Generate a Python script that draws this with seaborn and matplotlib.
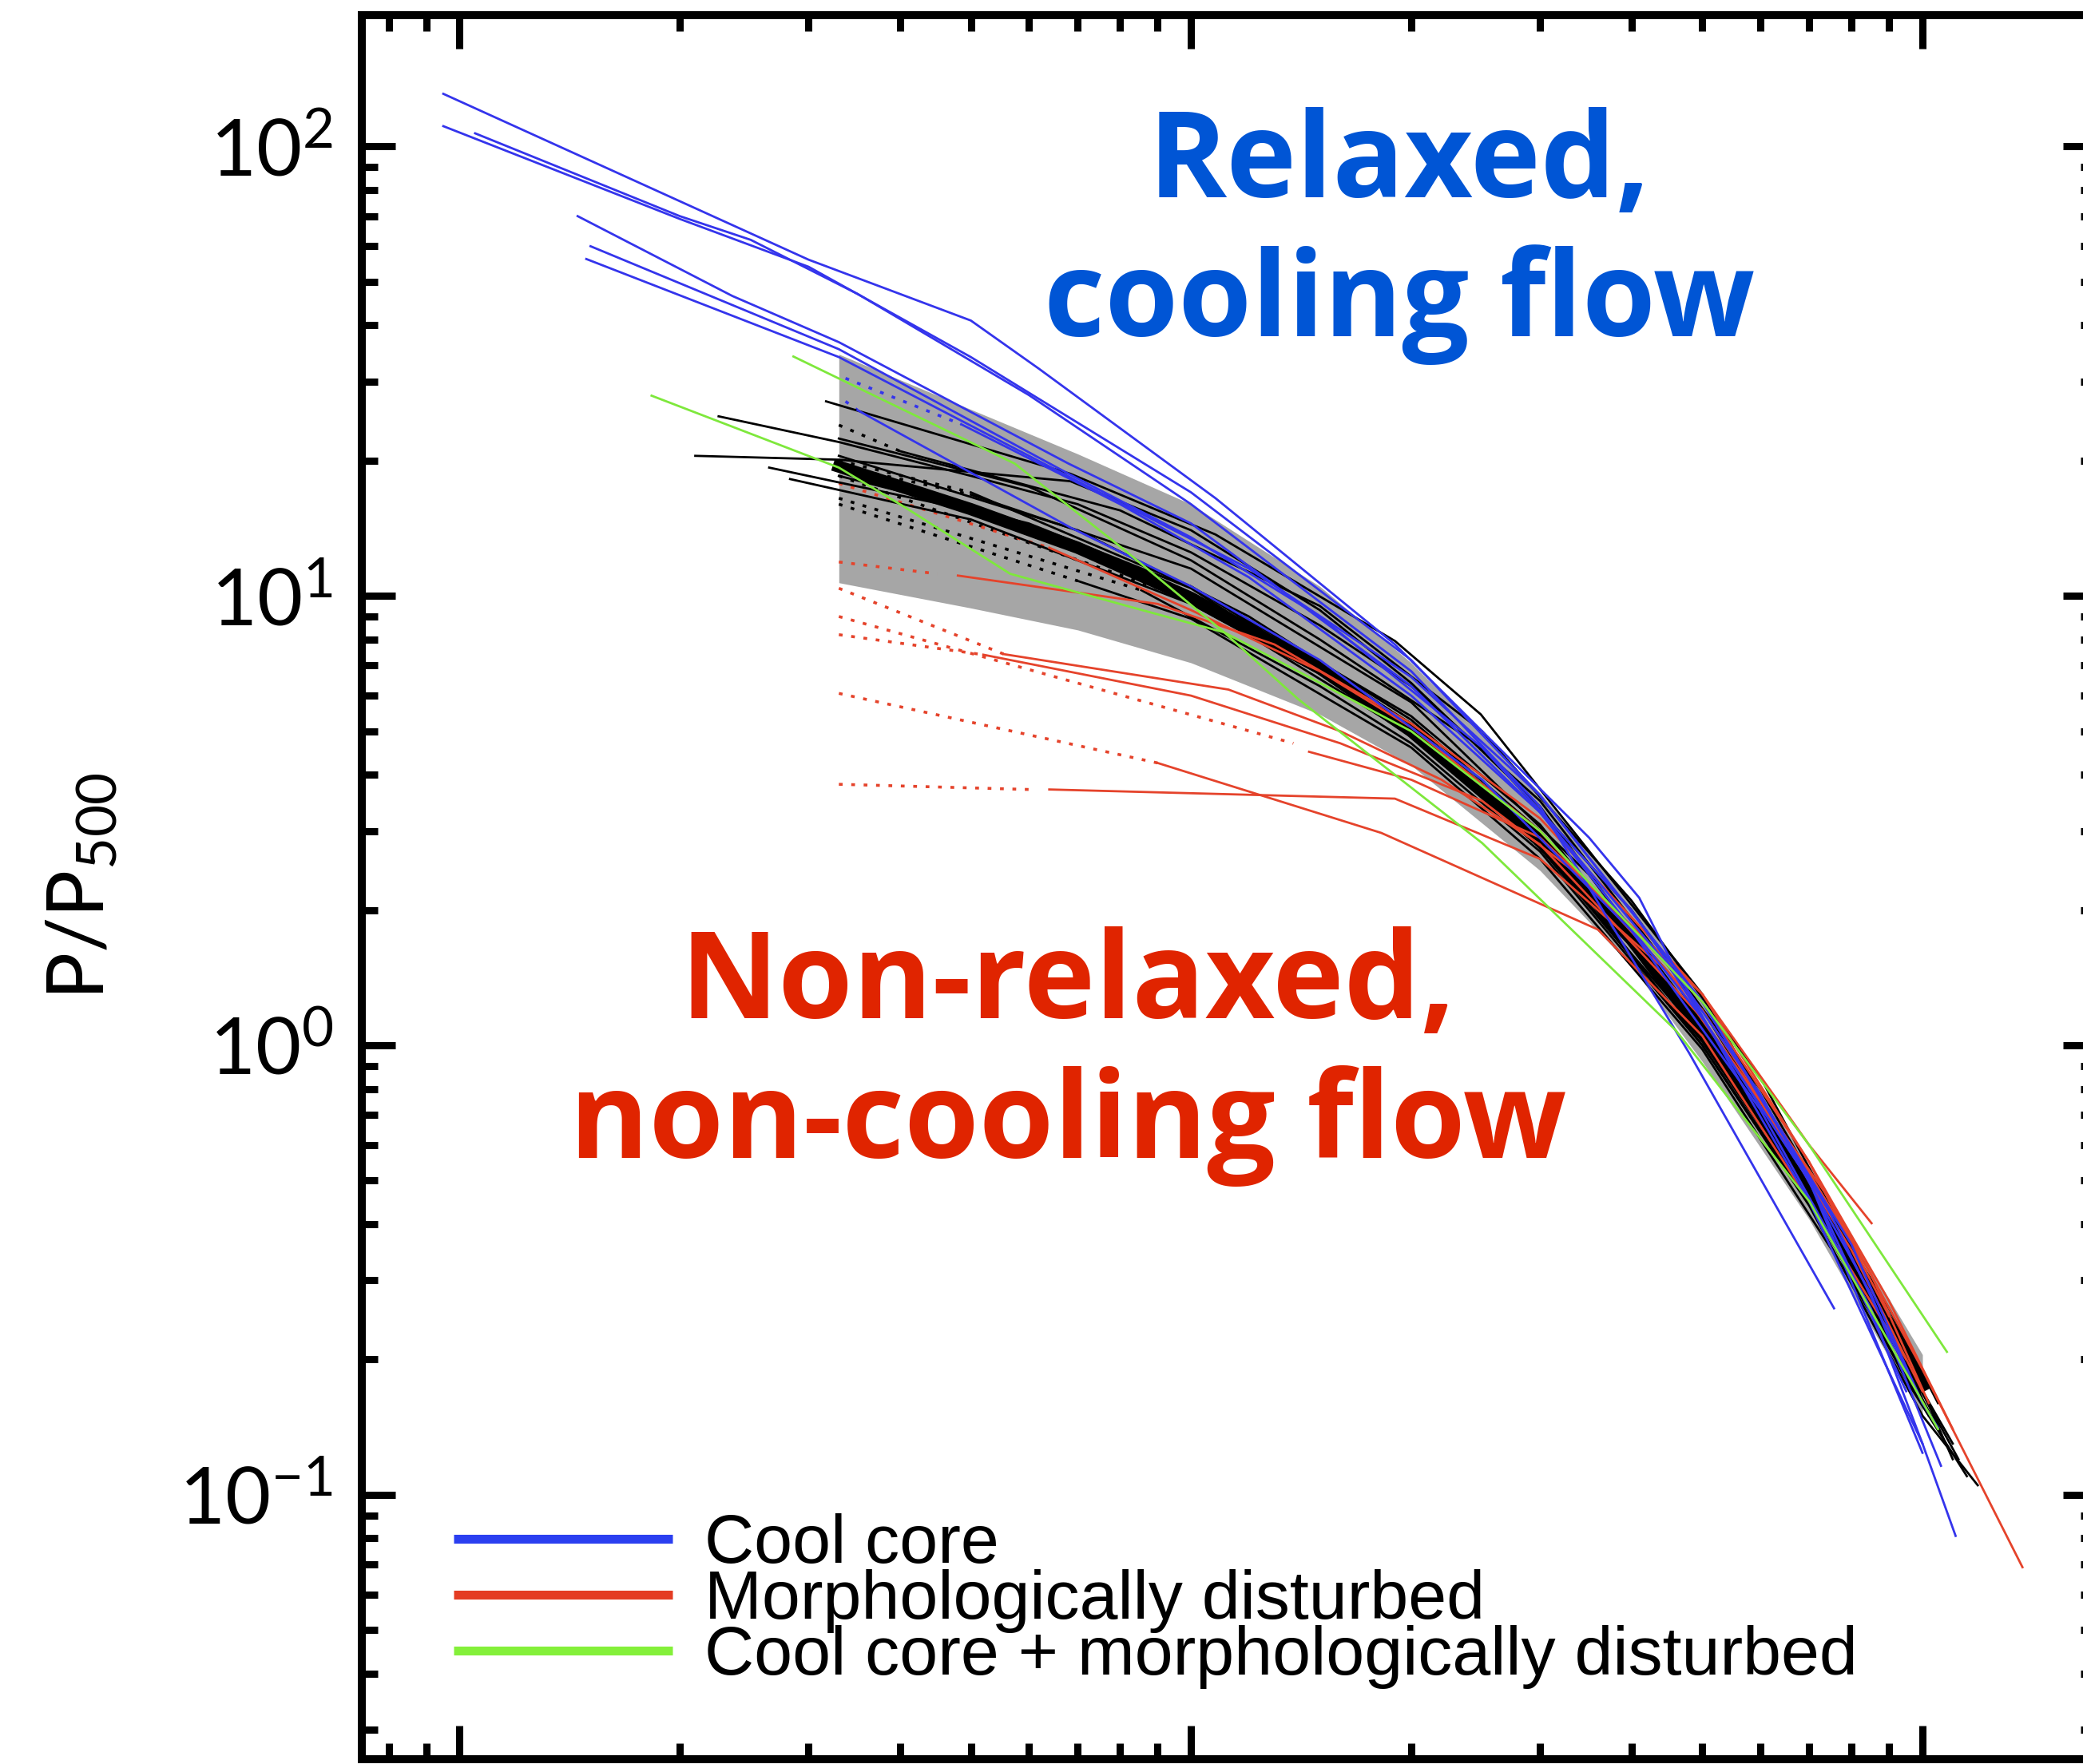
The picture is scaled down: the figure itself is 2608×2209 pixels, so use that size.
import numpy as np
import pandas as pd
import matplotlib
matplotlib.use("Agg")
import matplotlib.pyplot as plt
import seaborn as sns
from matplotlib.lines import Line2D
from matplotlib.ticker import LogLocator, NullFormatter, LogFormatterSciNotation

# ------------------------------------------------------------------ data
# mean scaled profile (thick black) and its dispersion (grey band)
mean_r = [0.033, 0.05, 0.07, 0.1, 0.15, 0.2, 0.3, 0.4, 0.5, 0.6, 0.7, 0.8, 0.9, 1.0]
mean_p = [19.4, 15.6, 12.8, 9.9, 6.9, 5.0, 2.85, 1.72, 1.07, 0.70, 0.47, 0.33, 0.24, 0.175]

band_r = [0.033, 0.05, 0.07, 0.1, 0.15, 0.2, 0.3, 0.4, 0.5, 0.7, 1.0]
band_lo = [10.7, 9.4, 8.4, 7.1, 5.45, 4.2, 2.45, 1.5, 0.92, 0.41, 0.15]
band_hi = [34.5, 26.0, 20.7, 16.0, 10.5, 7.1, 3.65, 2.1, 1.27, 0.54, 0.205]

# cool core clusters (blue)
cool_core_r = [
    [0.0095, 0.030, 0.050, 0.062, 0.108, 0.19, 0.35, 0.41, 0.46, 0.70, 1.0, 1.11],
    [0.0095, 0.020, 0.030, 0.050, 0.10, 0.20, 0.30, 0.50, 0.75, 1.0, 1.05],
    [0.0105, 0.020, 0.025, 0.035, 0.060, 0.10, 0.20, 0.30, 0.48, 0.757],
    [0.0145, 0.0236, 0.033, 0.068, 0.10, 0.20, 0.30, 0.50, 0.70, 1.0],
    [0.0151, 0.033, 0.068, 0.10, 0.15, 0.25, 0.40, 0.60, 0.85, 1.06],
    [0.0149, 0.033, 0.070, 0.12, 0.20, 0.30, 0.50, 0.80, 1.0],
    [0.0485, 0.08, 0.12, 0.20, 0.30, 0.45, 0.70, 0.95],
    [0.035, 0.0684, 0.10, 0.15, 0.25, 0.40, 0.60, 0.85, 1.0],
]
cool_core_p = [
    [131, 56, 41, 32, 16.5, 7.8, 2.9, 2.13, 1.47, 0.45, 0.13, 0.081],
    [111, 69, 54, 34, 17, 7.2, 3.6, 1.25, 0.42, 0.16, 0.141],
    [107, 70, 62, 47, 28, 16, 6.8, 3.4, 0.96, 0.26],
    [70, 46.5, 36.7, 19.7, 14.5, 6.3, 3.3, 1.15, 0.50, 0.124],
    [60, 35.4, 18.7, 13.5, 9.0, 4.6, 2.0, 0.78, 0.28, 0.116],
    [56.2, 34, 18, 11.5, 6.6, 3.6, 1.25, 0.36, 0.16],
    [24.1, 16, 11, 6.0, 3.3, 1.5, 0.50, 0.17],
    [25.9, 14.2, 10.5, 7.2, 3.9, 1.8, 0.72, 0.26, 0.13],
]
cool_core_dot_r = [[0.0337, 0.0485], [0.0337, 0.035]]
cool_core_dot_p = [[30.5, 24.1], [27.1, 25.9]]

# morphologically disturbed clusters (red)
disturbed_r = [
    [0.064, 0.10, 0.15, 0.20, 0.30, 0.50, 0.70, 0.85, 1.02],
    [0.048, 0.09, 0.13, 0.20, 0.30, 0.50, 0.70, 0.852],
    [0.0555, 0.1125, 0.16, 0.22, 0.30, 0.50, 0.75, 1.0, 1.37],
    [0.052, 0.10, 0.16, 0.25, 0.35, 0.50, 0.70, 0.90, 1.10],
    [0.09, 0.182, 0.36, 0.50, 0.70, 0.95],
    [0.064, 0.19, 0.30, 0.45, 0.60, 0.80, 1.00],
    [0.145, 0.20, 0.30, 0.50, 0.70, 0.90],
]
disturbed_p = [
    [12.8, 9.3, 6.8, 5.1, 3.0, 1.2, 0.52, 0.31, 0.16],
    [11.1, 9.6, 7.8, 5.2, 3.2, 1.3, 0.60, 0.402],
    [7.42, 6.19, 5.0, 3.9, 2.8, 1.15, 0.45, 0.19, 0.069],
    [7.4, 6.0, 4.7, 3.5, 2.3, 1.25, 0.55, 0.27, 0.14],
    [4.25, 2.97, 1.81, 1.05, 0.45, 0.20],
    [3.71, 3.54, 2.6, 1.45, 0.75, 0.35, 0.17],
    [4.5, 3.9, 2.9, 1.3, 0.55, 0.25],
]
disturbed_dot_r = [[0.033, 0.064], [0.033, 0.045], [0.033, 0.0555], [0.033, 0.052],
                   [0.033, 0.09], [0.033, 0.060], [0.033, 0.138]]
disturbed_dot_p = [[17.8, 12.8], [11.9, 11.2], [10.4, 7.42], [8.2, 7.4],
                   [6.07, 4.25], [3.81, 3.71], [9.0, 4.7]]

# cool core + morphologically disturbed (green)
both_r = [
    [0.0286, 0.0574, 0.0804, 0.111, 0.14, 0.25, 0.46, 0.70, 1.05],
    [0.0183, 0.033, 0.0405, 0.0566, 0.087, 0.111, 0.20, 0.30, 0.50, 0.70, 1.08],
]
both_p = [
    [34.1, 19.7, 12.8, 8.3, 5.9, 2.82, 1.08, 0.45, 0.14],
    [27.9, 19.3, 15.8, 11.2, 9.24, 8.3, 5.0, 3.0, 1.25, 0.60, 0.208],
]

# remaining clusters (black)
other_r = [
    [0.0317, 0.0684, 0.108, 0.19, 0.249, 0.359, 0.50, 0.70, 0.90],
    [0.0226, 0.033, 0.05, 0.07, 0.10, 0.15, 0.20, 0.30, 0.50, 0.75, 1.0],
    [0.021, 0.033, 0.0684, 0.10, 0.15, 0.20, 0.30, 0.50, 0.80, 1.10],
    [0.033, 0.06, 0.10, 0.15, 0.25, 0.40, 0.60, 0.85, 1.0],
    [0.0265, 0.05, 0.10, 0.20, 0.30, 0.50, 0.70, 0.95],
    [0.0283, 0.05, 0.10, 0.20, 0.30, 0.50, 0.70, 1.0, 1.19],
    [0.0855, 0.15, 0.20, 0.30, 0.50, 0.70, 1.0],
    [0.07, 0.10, 0.20, 0.30, 0.50, 0.80, 1.02],
    [0.04, 0.08, 0.15, 0.25, 0.40, 0.60, 0.90, 1.10],
    [0.05, 0.10, 0.20, 0.35, 0.55, 0.80, 1.05],
    [0.033, 0.07, 0.12, 0.20, 0.30, 0.45, 0.65, 0.90],
    [0.033, 0.06, 0.10, 0.20, 0.30, 0.50, 0.70, 0.95, 1.15],
    [0.05, 0.10, 0.20, 0.30, 0.50, 0.70, 0.90, 1.05],
    [0.10, 0.20, 0.30, 0.50, 0.70, 0.90, 1.12],
]
other_p = [
    [27.1, 18.7, 13.7, 7.94, 5.45, 2.57, 1.3, 0.50, 0.22],
    [25.1, 22.0, 18.5, 16.0, 12.5, 8.6, 6.3, 3.5, 1.2, 0.42, 0.16],
    [20.5, 20.1, 18.0, 14.0, 9.3, 6.4, 3.4, 1.1, 0.32, 0.13],
    [22.4, 17.5, 12.0, 8.0, 4.6, 2.0, 0.80, 0.30, 0.18],
    [19.3, 15.5, 10.5, 5.4, 3.1, 1.1, 0.48, 0.20],
    [18.2, 14.8, 9.6, 5.2, 2.9, 1.0, 0.44, 0.15, 0.105],
    [10.3, 6.3, 4.7, 2.7, 1.0, 0.45, 0.16],
    [10.8, 8.9, 4.6, 2.6, 0.98, 0.30, 0.15],
    [21.0, 15.5, 9.5, 5.0, 2.1, 0.85, 0.25, 0.12],
    [16.8, 11.5, 5.8, 2.4, 0.9, 0.33, 0.14],
    [20.5, 14.0, 9.0, 5.3, 3.0, 1.45, 0.60, 0.23],
    [18.5, 14.5, 10.4, 5.0, 2.75, 1.02, 0.46, 0.18, 0.11],
    [17.0, 10.5, 5.2, 2.95, 1.1, 0.50, 0.26, 0.16],
    [9.8, 4.9, 2.75, 1.05, 0.46, 0.23, 0.12],
]
other_dot_r = [[0.033, 0.0855], [0.033, 0.07], [0.033, 0.04], [0.033, 0.05],
               [0.033, 0.05], [0.033, 0.10]]
other_dot_p = [[16.5, 10.3], [16.0, 10.8], [24.0, 21.0], [19.5, 16.8],
               [20.0, 17.0], [18.5, 9.8]]

legend_labels = ["Cool core", "Morphologically disturbed",
                 "Cool core + morphologically disturbed"]

# ------------------------------------------------------------------ styling
COL = {"cc": "#3434EC", "dist": "#E5432B", "both": "#7EE83C", "other": "#000000"}
LEG_COL = ["#2B3FF0", "#E43C23", "#84F03A"]


def long_df(rs, ps, group, seg):
    rows = []
    for i, (r, p) in enumerate(zip(rs, ps)):
        for rr, pp in zip(r, p):
            rows.append((group, f"{group}-{seg}-{i}", rr, pp))
    return pd.DataFrame(rows, columns=["group", "uid", "r", "P"])


solid_black = long_df(other_r, other_p, "other", "s")
solid_col = pd.concat([long_df(disturbed_r, disturbed_p, "dist", "s"),
                       long_df(cool_core_r, cool_core_p, "cc", "s"),
                       long_df(both_r, both_p, "both", "s")], ignore_index=True)
dotted = pd.concat([long_df(other_dot_r, other_dot_p, "other", "d"),
                    long_df(disturbed_dot_r, disturbed_dot_p, "dist", "d"),
                    long_df(cool_core_dot_r, cool_core_dot_p, "cc", "d")], ignore_index=True)
mean_df = pd.DataFrame({"r": mean_r, "P": mean_p})

plt.rcParams["font.family"] = ["Lato", "DejaVu Sans"]
plt.rcParams["axes.linewidth"] = 7.2

W, H = 2608, 2209
fig = plt.figure(figsize=(W / 100, H / 100), dpi=100)
ax = fig.add_axes([453 / W, (H - 2203) / H, (2625 - 453) / W, (2203 - 19) / H])
ax.set_xscale("log")
ax.set_yscale("log")
ax.set_xlim(0.00735, 1.73)
ax.set_ylim(0.0258, 196)

ax.fill_between(band_r, band_lo, band_hi, color="#A6A6A6", lw=0, zorder=1)

thin = 2.0
sns.lineplot(data=dotted, x="r", y="P", hue="group", palette=COL, units="uid",
             estimator=None, sort=False, legend=False, lw=2.6,
             linestyle=(0, (1.3, 3.0)), ax=ax, zorder=2)
sns.lineplot(data=solid_black, x="r", y="P", hue="group", palette=COL, units="uid",
             estimator=None, sort=False, legend=False, lw=thin, ax=ax, zorder=3)
sns.lineplot(data=mean_df, x="r", y="P", color="black", estimator=None, sort=False,
             lw=11, ax=ax, zorder=4)
sns.lineplot(data=solid_col, x="r", y="P", hue="group", palette=COL, units="uid",
             estimator=None, sort=False, legend=False, lw=thin, ax=ax, zorder=5)

ax.set_xlim(0.00735, 1.73)
ax.set_ylim(0.0258, 196)
ax.set_xlabel("")

# ticks
ax.xaxis.set_major_locator(LogLocator(base=10, numticks=10))
ax.xaxis.set_minor_locator(LogLocator(base=10, subs=np.arange(2, 10), numticks=20))
ax.yaxis.set_major_locator(LogLocator(base=10, numticks=10))
ax.yaxis.set_minor_locator(LogLocator(base=10, subs=np.arange(2, 10), numticks=20))
ax.yaxis.set_major_formatter(LogFormatterSciNotation())
ax.yaxis.set_minor_formatter(NullFormatter())
ax.xaxis.set_minor_formatter(NullFormatter())
ax.tick_params(which="both", direction="in", top=True, right=True, bottom=True, left=True,
               labelbottom=False, labeltop=False, width=6.5, color="black")
ax.tick_params(which="major", length=30)
ax.tick_params(which="minor", length=14.5)
ax.tick_params(axis="y", which="major", labelsize=71, pad=26)

ax.set_ylabel(r"P/P$_{\mathdefault{500}}$", fontsize=71)
ax.yaxis.set_label_coords(-0.14, 0.5005)

# annotations
tfam = ["Open Sans", "DejaVu Sans"]
ax.text(0.598, 0.8956, "Relaxed,", transform=ax.transAxes, ha="center", va="baseline",
        fontsize=107, fontweight="bold", family=tfam, color="#0055D5")
ax.text(0.598, 0.816, "cooling flow", transform=ax.transAxes, ha="center", va="baseline",
        fontsize=107, fontweight="bold", family=tfam, color="#0055D5")
ax.text(0.407, 0.4249, "Non-relaxed,", transform=ax.transAxes, ha="center", va="baseline",
        fontsize=109, fontweight="bold", family=tfam, color="#E02400")
ax.text(0.407, 0.3448, "non-cooling flow", transform=ax.transAxes, ha="center", va="baseline",
        fontsize=109, fontweight="bold", family=tfam, color="#E02400")

handles = [Line2D([], [], color=c, lw=8, solid_capstyle="butt") for c in LEG_COL]
ax.legend(handles, legend_labels, loc="upper left", bbox_to_anchor=(0.053, 0.141),
          frameon=False, borderpad=0, borderaxespad=0, handlelength=3.18,
          handletextpad=0.47, labelspacing=-0.117,
          prop={"family": ["Liberation Sans", "DejaVu Sans"], "size": 62})

fig.savefig("out.png", dpi=100)
